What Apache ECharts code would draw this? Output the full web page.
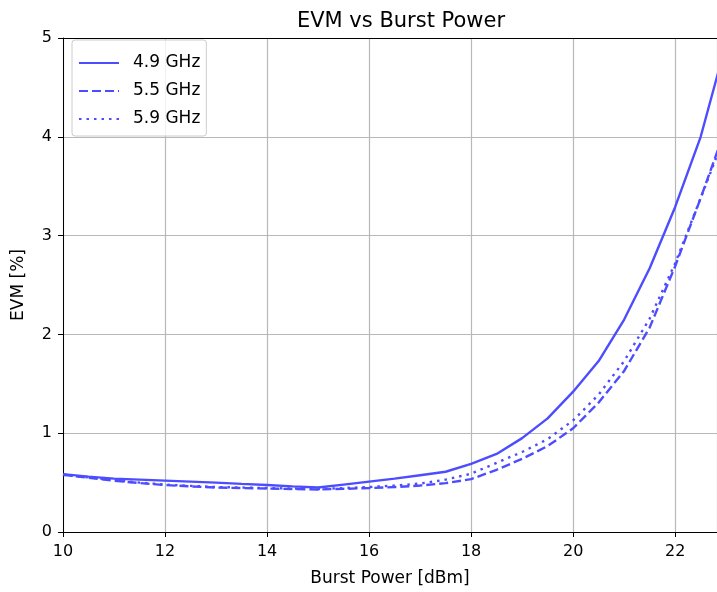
<!DOCTYPE html>
<html>
<head>
<meta charset="utf-8">
<script src="https://cdn.jsdelivr.net/npm/echarts@6/dist/echarts.min.js"></script>
<style>
html,body{margin:0;padding:0;background:#fff;}
#chart{width:717px;height:592px;}
</style>
</head>
<body>
<div id="chart"></div>
<script>
var burstPower = [10,10.5,11,11.5,12,12.5,13,13.5,14,14.5,15,15.5,16,16.5,17,17.5,18,18.5,19,19.5,20,20.5,21,21.5,22,22.5,23];
var evm49 = [0.586,0.56,0.54,0.53,0.52,0.51,0.50,0.487,0.475,0.462,0.45,0.48,0.51,0.54,0.575,0.61,0.69,0.79,0.95,1.15,1.42,1.73,2.15,2.67,3.29,4.0,4.95];
var evm55 = [0.58,0.55,0.52,0.495,0.475,0.462,0.45,0.445,0.44,0.435,0.43,0.437,0.445,0.455,0.47,0.495,0.535,0.63,0.74,0.87,1.05,1.31,1.63,2.07,2.69,3.38,4.1];
var evm59 = [0.58,0.553,0.525,0.5,0.48,0.467,0.455,0.45,0.445,0.44,0.435,0.445,0.455,0.47,0.49,0.53,0.59,0.70,0.81,0.94,1.13,1.39,1.73,2.16,2.72,3.38,4.05];
var seriesNames = ['4.9 GHz','5.5 GHz','5.9 GHz'];
var xTickMin = 10, xVisibleMax = 22.82, xTickStep = 2;
var yTickMin = 0, yTickMax = 5, yTickStep = 1;

function pairs(xs, ys){ return xs.map(function(x,i){ return [x, ys[i]]; }); }

var font = 'DejaVu Sans';
var lineColor = '#4d4dff';
var chart = echarts.init(document.getElementById('chart'), null, {renderer:'canvas'});
chart.setOption({
  animation: false,
  backgroundColor: '#ffffff',
  textStyle: {fontFamily: font},
  title: {
    text: 'EVM vs Burst Power',
    left: 396, top: 6, textAlign: 'center',
    textStyle: {fontFamily: font, fontSize: 21, fontWeight: 'normal', color: '#000'}
  },
  grid: {left: 63, top: 38, right: 0, bottom: 59, show: false},
  legend: {
    orient: 'vertical', left: 72, top: 40,
    itemWidth: 40, itemHeight: 14, itemGap: 10,
    padding: [14, 6, 8, 6],
    borderColor: '#cccccc', borderWidth: 1, borderRadius: 3,
    backgroundColor: 'rgba(255,255,255,0.8)',
    itemStyle: {opacity: 0},
    textStyle: {fontFamily: font, fontSize: 17, color: '#000', lineHeight: 18, padding: [0,0,0,9]},
    data: seriesNames
  },
  xAxis: [{
    type: 'value', min: xTickMin, max: xVisibleMax, interval: xTickStep,
    name: 'Burst Power [dBm]', nameLocation: 'middle', nameGap: 38,
    nameTextStyle: {fontFamily: font, fontSize: 17, color: '#000'},
    axisLine: {show: true, onZero: false, lineStyle: {color: '#000', width: 1}},
    axisTick: {show: true, inside: false, length: 5, lineStyle: {color: '#000', width: 1}},
    axisLabel: {fontFamily: font, fontSize: 16, color: '#000', margin: 12, showMaxLabel: false},
    splitLine: {show: true, lineStyle: {color: '#b8b8b8', width: 1.2}}
  }, {
    type: 'value', position: 'top', min: xTickMin, max: xVisibleMax, interval: xTickStep,
    axisLine: {show: true, onZero: false, lineStyle: {color: '#000', width: 1}},
    axisTick: {show: false}, axisLabel: {show: false}, splitLine: {show: false}
  }],
  yAxis: {
    type: 'value', min: yTickMin, max: yTickMax, interval: yTickStep,
    name: 'EVM [%]', nameLocation: 'middle', nameGap: 36,
    nameTextStyle: {fontFamily: font, fontSize: 17, color: '#000'},
    axisLine: {show: true, lineStyle: {color: '#000', width: 1}},
    axisTick: {show: true, inside: false, length: 5, lineStyle: {color: '#000', width: 1}},
    axisLabel: {fontFamily: font, fontSize: 16, color: '#000', margin: 11},
    splitLine: {show: true, lineStyle: {color: '#b8b8b8', width: 1.2}}
  },
  series: [
    {name: seriesNames[0], type: 'line', data: pairs(burstPower, evm49), symbol: 'none', showSymbol: false, clip: true,
     lineStyle: {color: lineColor, width: 2.4, type: 'solid'}, itemStyle: {color: lineColor}},
    {name: seriesNames[1], type: 'line', data: pairs(burstPower, evm55), symbol: 'none', showSymbol: false, clip: true,
     lineStyle: {color: lineColor, width: 2.4, type: [9, 4]}, itemStyle: {color: lineColor}},
    {name: seriesNames[2], type: 'line', data: pairs(burstPower, evm59), symbol: 'none', showSymbol: false, clip: true,
     lineStyle: {color: lineColor, width: 2.4, type: [2.5, 5]}, itemStyle: {color: lineColor}}
  ]
});
</script>
</body>
</html>
